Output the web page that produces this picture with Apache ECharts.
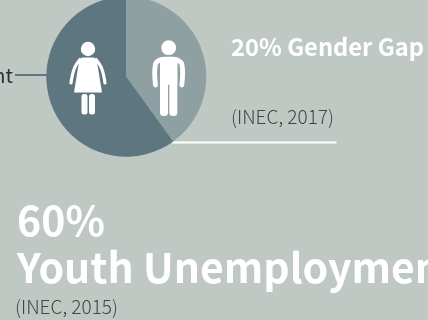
<!DOCTYPE html>
<html>
<head>
<meta charset="utf-8">
<style>html,body{margin:0;padding:0;background:#c0c8c4}#c{width:428px;height:320px}</style>
<script src="https://cdn.jsdelivr.net/npm/echarts@6/dist/echarts.min.js"></script>
</head>
<body>
<div id="c"></div>
<script>
// Share of unemployment by gender
const genders = ['Men', 'Women'];
const shares = [40, 60];
const sliceColors = ['#8fa0a3', '#5e7680'];
const gapTitle = '20% Gender Gap';
const gapSource = '(INEC, 2017)';
const youthValue = '60%';
const youthTitle = 'Youth Unemployment';
const youthSource = '(INEC, 2015)';
const pieCaption = 'Unemployment';

const font = '"Noto Sans CJK SC", "Noto Sans", sans-serif';
const white = '#ffffff';

function label(text, x, y, size, weight, fill, align) {
  return { type: 'text', x, y, silent: true, z: 10,
    style: { text, fill, font: weight + ' ' + size + 'px ' + font, textAlign: align || 'left', textVerticalAlign: 'middle' } };
}
function limb(points, width) {
  return { type: 'polyline', silent: true, z: 10, shape: { points, smooth: 0.4 },
    style: { stroke: white, lineWidth: width, lineCap: 'round', fill: null } };
}
function bar(x, y, width, height, r) {
  return { type: 'rect', silent: true, z: 10, shape: { x, y, width, height, r }, style: { fill: white } };
}
function head(cx, cy, r) {
  return { type: 'circle', silent: true, z: 10, shape: { cx, cy, r }, style: { fill: white } };
}

// Female figure
const woman = [
  head(88, 49, 7.2),
  { type: 'polygon', silent: true, z: 10, shape: { points: [[82, 57.5], [94, 57.5], [97, 62], [98, 68], [102, 92.5], [74, 92.5], [78, 68], [79, 62]] }, style: { fill: white } },
  limb([[80, 59.5], [74.5, 68], [71, 83]], 3.2),
  limb([[96, 59.5], [101.5, 68], [105, 83]], 3.2),
  bar(81.5, 94, 6, 20.5, 2.5),
  bar(89, 94, 6, 20.5, 2.5)
];
// Male figure
const man = [
  head(168.7, 47.7, 7.4),
  { type: 'rect', silent: true, z: 10, shape: { x: 160, y: 56.7, width: 17.5, height: 28, r: [4, 4, 0, 0] }, style: { fill: white } },
  limb([[161, 59.5], [155.5, 64], [155.5, 85]], 4.8),
  limb([[176, 59.5], [181.8, 64], [181.8, 85]], 4.8),
  bar(160, 80, 8, 36, 3.5),
  bar(169.3, 80, 8, 36, 3.5)
];

const chart = echarts.init(document.getElementById('c'), null, { renderer: 'canvas' });
chart.setOption({
  backgroundColor: '#c0c8c4',
  animation: false,
  series: [{
    type: 'pie',
    center: [126.3, 76.7],
    radius: [0, 80],
    startAngle: 90,
    clockwise: true,
    silent: true,
    label: { show: false },
    labelLine: { show: false },
    data: genders.map((name, i) => ({ name, value: shares[i], itemStyle: { color: sliceColors[i] } }))
  }],
  graphic: [
    { type: 'line', silent: true, z: 1, shape: { x1: 15, y1: 75, x2: 47, y2: 75 }, style: { stroke: '#5e7680', lineWidth: 2 } },
    { type: 'line', silent: true, z: 1, shape: { x1: 172, y1: 142.5, x2: 336.5, y2: 142.5 }, style: { stroke: white, lineWidth: 2.2 } },
    label(pieCaption, 13, 75, 20, 400, '#2e2e2e', 'right'),
    label(gapTitle, 231, 47, 23.7, 700, white),
    label(gapSource, 231, 117, 19, 300, '#444444'),
    label(youthValue, 17, 220, 41, 700, white),
    label(youthTitle, 17, 267, 41, 700, white),
    label(youthSource, 15, 307, 19, 300, '#444444'),
    ...woman,
    ...man
  ]
});
</script>
</body>
</html>
